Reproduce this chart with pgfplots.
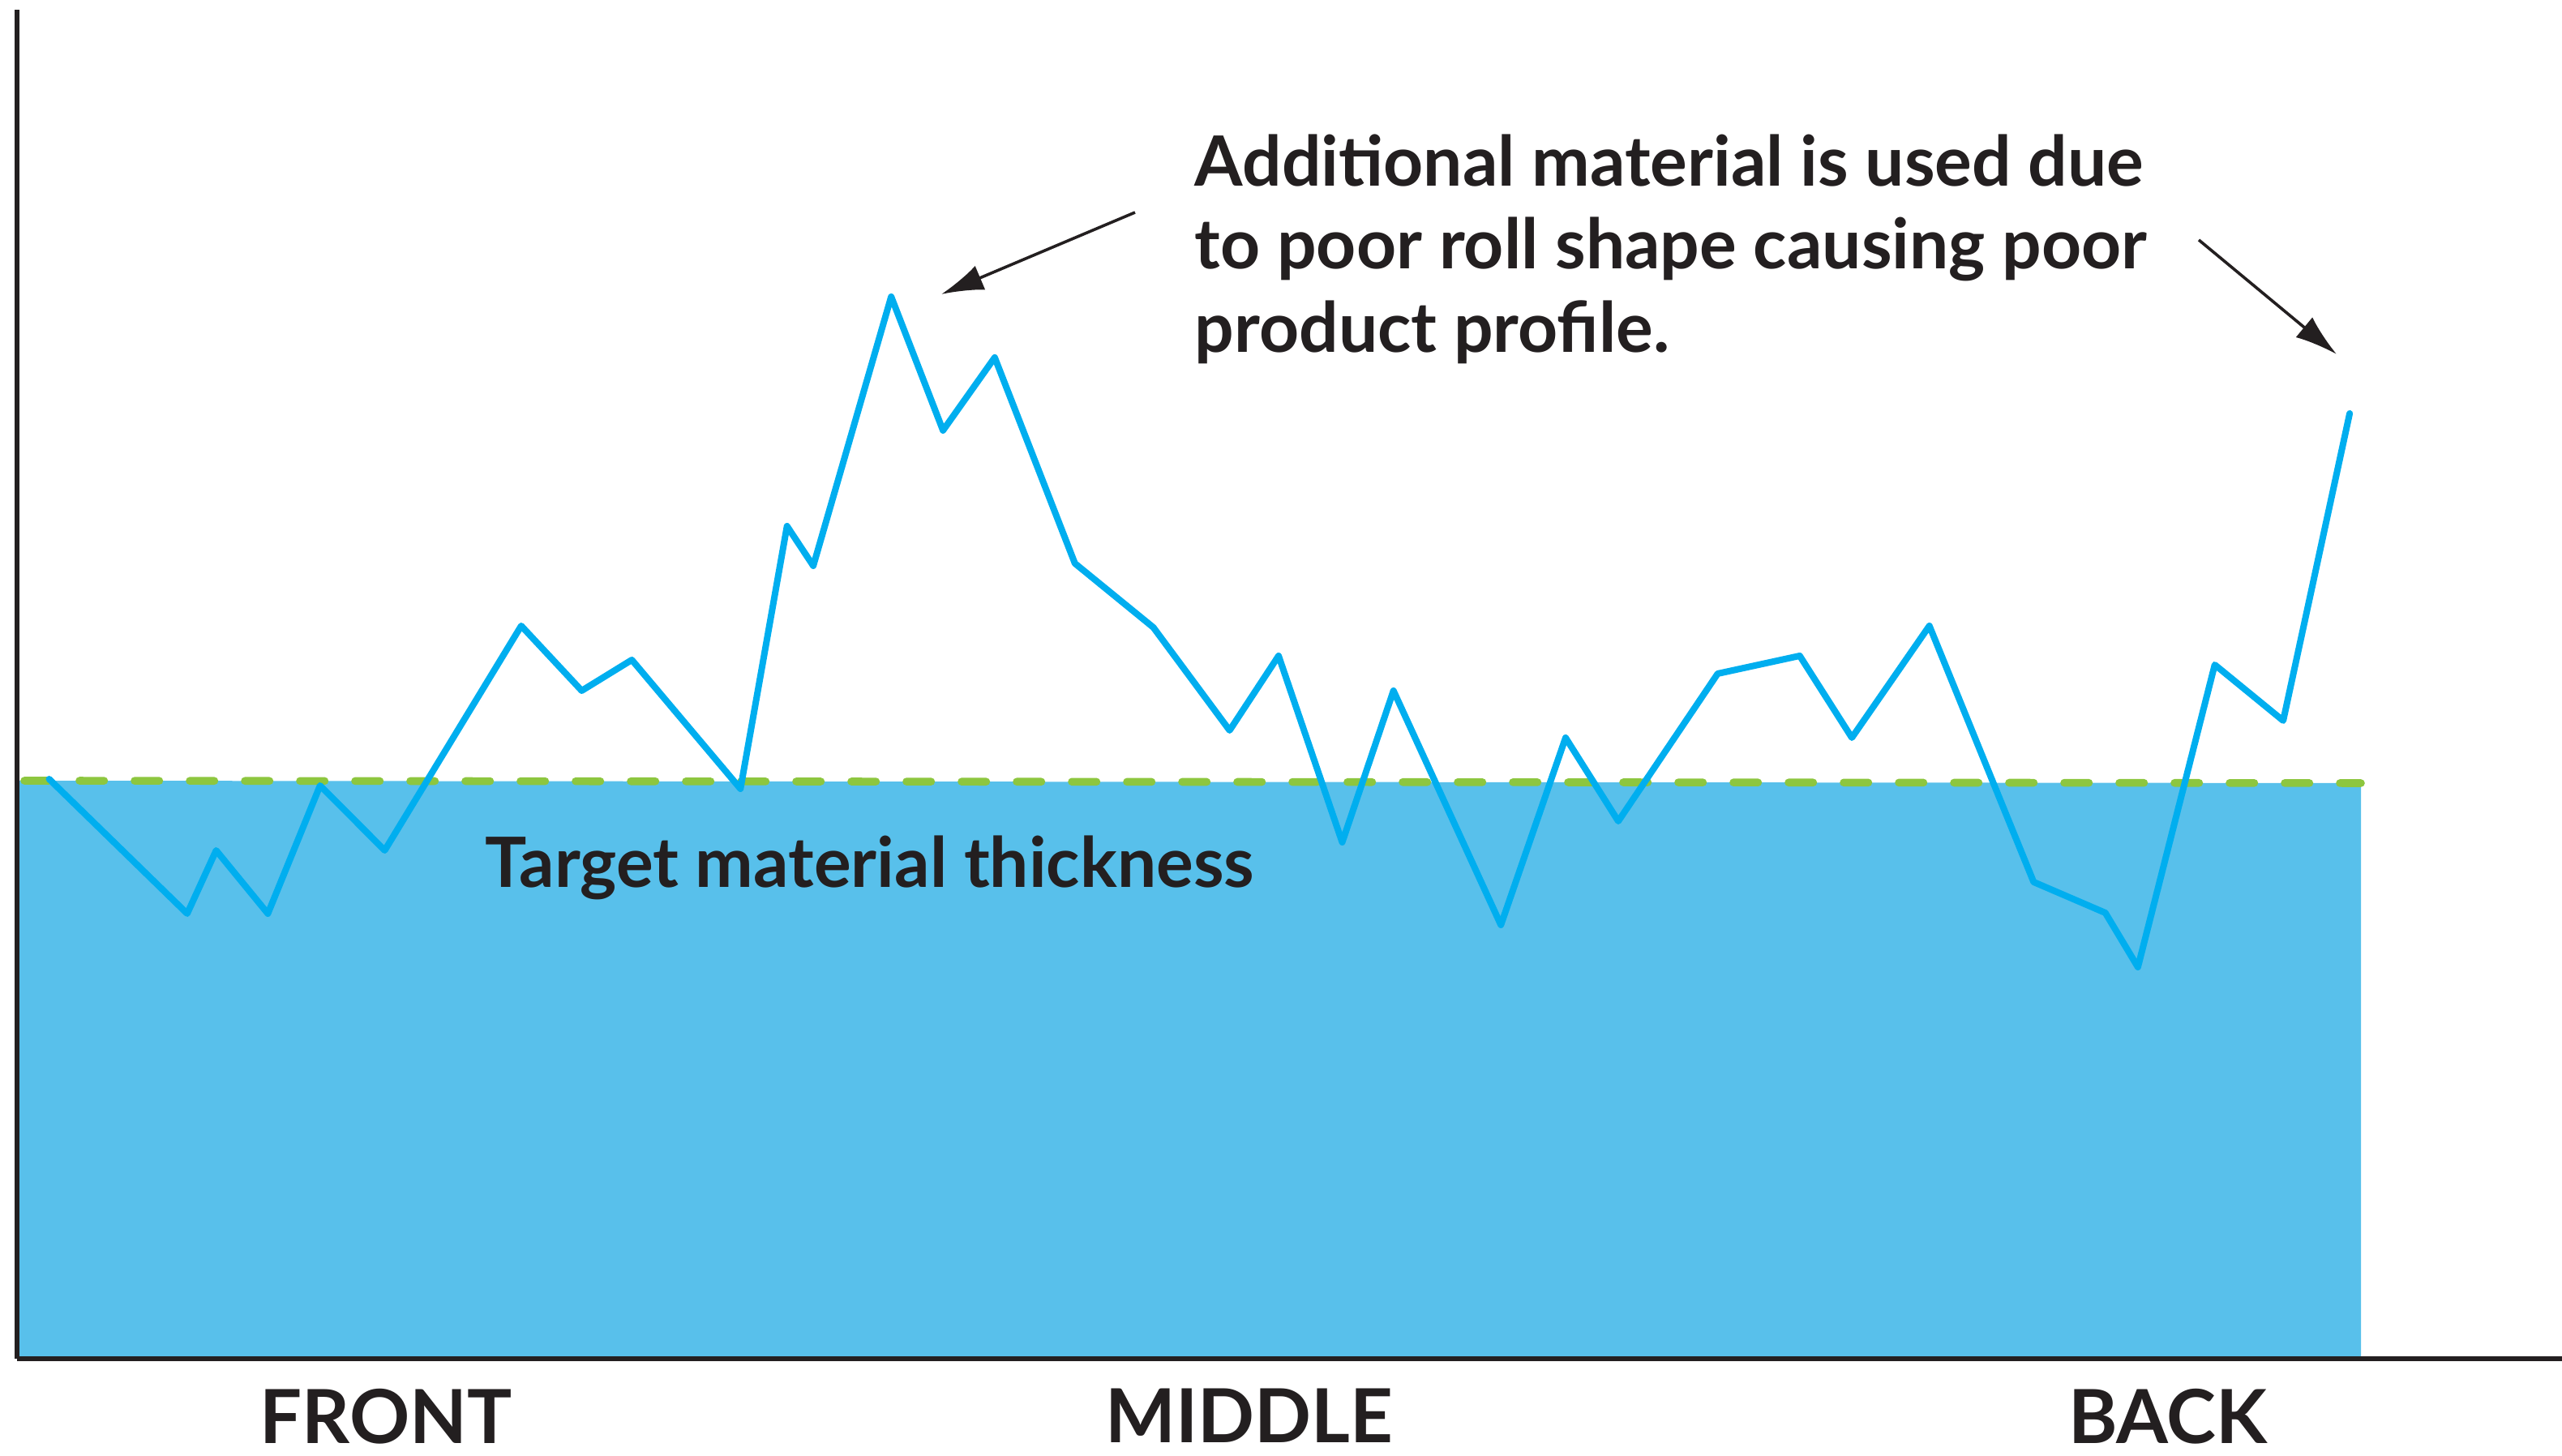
\documentclass[border=0pt]{standalone}
\usepackage{pgfplots}
\pgfplotsset{compat=1.18}
\usetikzlibrary{arrows.meta}
\usepackage{fontspec}
\setmainfont{Lato}
\definecolor{linecol}{HTML}{00AEEF}
\definecolor{fillcol}{HTML}{58C0EB}
\definecolor{dashcol}{HTML}{8DC63F}
\definecolor{inkcol}{HTML}{231F20}
\begin{document}
\begin{tikzpicture}
\useasboundingbox (0,0) rectangle (790pt,449pt);
\begin{axis}[
  at={(5.25pt,30pt)}, anchor=south west,
  scale only axis, width=784.75pt, height=416pt,
  xmin=21, xmax=3160, ymin=0, ymax=1664,
  axis x line=bottom, axis y line=left,
  axis line style={draw=inkcol, line width=1.5pt, -},
  axis on top,
  ytick=\empty,
  xtick={476,1541,2674},
  xticklabels={FRONT,MIDDLE,BACK},
  major tick length=0pt,
  xticklabel style={font=\fontsize{23}{27}\selectfont\bfseries, text=inkcol, anchor=north, inner sep=0pt, yshift=-9pt},
  clip=false,
]
% fill under target thickness
\addplot[fill=fillcol, draw=none] coordinates {(21,713) (2912,710)} \closedcycle;
% target thickness (dashed)
\addplot[dashcol, line width=2.4pt, line cap=round, dash pattern=on 7.6pt off 9.4pt] coordinates {(30,713) (2912,710)};
% actual material profile
\addplot[linecol, line width=2pt, line join=round, line cap=round] coordinates {
(60.6,715) (230.9,549) (266.6,627) (330.4,549) (394.8,707) (474.5,627)
(642.9,904) (717.5,824) (779.3,862) (913.3,703) (970.7,1027) (1003.1,978)
(1099.2,1310) (1163.1,1145) (1226.9,1235) (1325.8,981) (1422.6,902)
(1516.6,775) (1577,867) (1655.5,637) (1718.7,824) (1851.2,535) (1931,766)
(1996,663) (2118.6,845) (2219.8,867) (2284.1,766) (2379.7,904) (2508.3,588)
(2596.7,550) (2636.9,483) (2731.7,856) (2816.1,787) (2898.1,1166)
};
% annotations
\draw[inkcol, line width=0.9pt, -{Latex[length=13pt,width=8pt]}] (axis cs:1400,1414) -- (axis cs:1161,1313);
\draw[inkcol, line width=0.9pt, -{Latex[length=13pt,width=8pt]}] (axis cs:2712,1380) -- (axis cs:2882,1239);
\begin{scope}[every node/.style={anchor=base west, inner sep=0pt, text=inkcol, font=\fontsize{21.4}{25}\selectfont\bfseries}]
\node at (axis cs:1473,1446) {Additional material is used due};
\node at (axis cs:1473,1344) {to poor roll shape causing poor};
\node at (axis cs:1473,1241) {product profile.};
\end{scope}
\node[anchor=base west, inner sep=0pt, text=inkcol, font=\fontsize{21.4}{25}\selectfont\bfseries] at (axis cs:598,581) {Target material thickness};
\end{axis}
\end{tikzpicture}
\end{document}
